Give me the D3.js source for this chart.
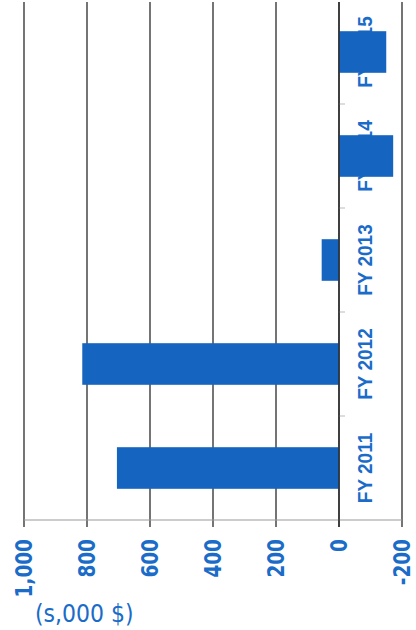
<!DOCTYPE html>
<html>
<head>
<meta charset="utf-8">
<script src="https://cdn.jsdelivr.net/npm/d3@7"></script>
<style>
  html, body { margin: 0; padding: 0; background: #fff; }
  svg { display: block; }
</style>
</head>
<body>
<svg id="chart" width="416" height="630"></svg>
<script>
// ---- data ----
const categories = ["FY 2011", "FY 2012", "FY 2013", "FY 2014", "FY 2015"];
const values = [705, 815, 55, -172, -150];
const tickValues = [1000, 800, 600, 400, 200, 0, -200];
const tickLabels = ["1,000", "800", "600", "400", "200", "0", "-200"];
const unitLabel = "(s,000 $)";

// ---- layout ----
const svg = d3.select("#chart");
const blue = "#1565c0";
const textBlue = "#1a6cc8";

const x = d3.scaleLinear().domain([1000, -200]).range([24, 402]);
const y = d3.scaleBand().domain(categories).range([520, 0]).paddingInner(0.6).paddingOuter(0.3);

const data = categories.map((c, i) => ({ cat: c, v: values[i] }));

// gridlines (value axis ticks)
svg.append("g").selectAll("line").data(tickValues).join("line")
  .attr("x1", d => x(d)).attr("x2", d => x(d))
  .attr("y1", 2).attr("y2", 527)
  .attr("stroke", "#3a3a3a").attr("stroke-width", 1.4);

// value axis line
svg.append("line")
  .attr("x1", x(1000)).attr("x2", x(-200))
  .attr("y1", 520).attr("y2", 520)
  .attr("stroke", "#9a9a9a").attr("stroke-width", 1.2);

// category tick marks at band boundaries
const step = y.step();
const boundary = d => y(d) + y.bandwidth() + step * 0.3;
svg.append("g").selectAll("line").data(categories.slice(1)).join("line")
  .attr("x1", x(0)).attr("x2", x(0) + 6)
  .attr("y1", boundary).attr("y2", boundary)
  .attr("stroke", "#bbb").attr("stroke-width", 1);

// category labels (drawn under bars)
svg.append("g").selectAll("text").data(categories).join("text")
  .attr("transform", d => `translate(${x(0) + 26},${y(d) + y.bandwidth() / 2}) rotate(-90) scale(1,1.1)`)
  .attr("text-anchor", "middle")
  .attr("dominant-baseline", "central")
  .attr("font-family", "Liberation Sans, Arial, sans-serif")
  .attr("font-weight", "bold")
  .attr("font-size", 19)
  .attr("fill", textBlue)
  .text(d => d);

// bars
svg.append("g").selectAll("rect").data(data).join("rect")
  .attr("x", d => Math.min(x(d.v), x(0)))
  .attr("width", d => Math.abs(x(d.v) - x(0)))
  .attr("y", d => y(d.cat))
  .attr("height", y.bandwidth())
  .attr("fill", blue);

// category axis line at 0
svg.append("line")
  .attr("x1", x(0)).attr("x2", x(0))
  .attr("y1", 2).attr("y2", 527)
  .attr("stroke", "#2a2a2a").attr("stroke-width", 1.4);

// value tick labels
svg.append("g").selectAll("text").data(tickValues).join("text")
  .attr("transform", d => `translate(${x(d)},539) rotate(-90) scale(1,1.25)`)
  .attr("text-anchor", "end")
  .attr("dominant-baseline", "central")
  .attr("font-family", "DejaVu Sans, Verdana, sans-serif")
  .attr("font-weight", "bold")
  .attr("font-size", 18.5)
  .attr("fill", textBlue)
  .text((d, i) => tickLabels[i]);

// unit label
svg.append("text")
  .attr("transform", "translate(35,622) scale(1,1.15)")
  .attr("font-family", "DejaVu Sans, Verdana, sans-serif")
  .attr("font-size", 22)
  .attr("fill", textBlue)
  .text(unitLabel);
</script>
</body>
</html>
